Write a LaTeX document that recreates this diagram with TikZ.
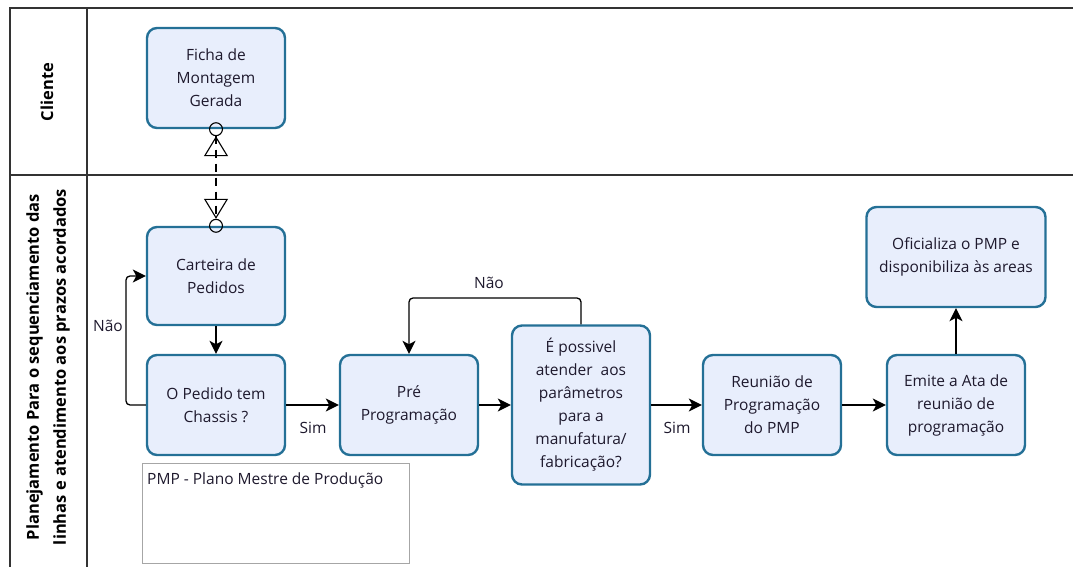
\documentclass[tikz,border=0pt]{standalone}
\usepackage{fontspec}
\setmainfont{Open Sans}
\usetikzlibrary{arrows.meta}
\definecolor{boxborda}{RGB}{36,112,150}
\definecolor{boxfundo}{RGB}{232,238,252}
\definecolor{texto}{RGB}{30,25,45}

\begin{document}
\begin{tikzpicture}[x=1pt,y=-1pt,
	tarefa/.style={draw=boxborda,fill=boxfundo,line width=2.4pt,rounded corners=10pt,
		minimum width=138pt,minimum height=100pt,align=center,text=texto,
		font=\fontsize{15.5}{23}\selectfont},
	seta/.style={line width=1.3pt,-{Stealth[length=13pt,width=13pt,inset=3.5pt]}},
	rotulo/.style={text=texto,font=\fontsize{15.5}{18}\selectfont},
	raia/.style={line width=1.3pt,black!80},
	cabeca/.style={rotate=90,align=center,font=\fontsize{16.5}{27}\selectfont\bfseries}]
				\useasboundingbox (0,0) rectangle (1073,567);
				\draw[raia] (10,567) -- (10,8) -- (1073,8);
				\draw[raia] (87,8) -- (87,567);
				\draw[raia] (10,175) -- (1073,175);
				\node[cabeca] (cliente) at (47,92) {Cliente};
				\node[cabeca] (planej) at (48,367) {Planejamento Para o sequenciamento das\\linhas e atendimento aos prazos acordados};
				\node[tarefa] (ficha) at (216,78) {Ficha de\\Montagem\\Gerada};
				\node[tarefa,minimum height=98pt] (carteira) at (216,276) {Carteira de\\Pedidos};
				\node[tarefa] (pedido) at (216,405) {O Pedido tem\\Chassis ?};
				\node[tarefa] (pre) at (409,405) {Pré\\Programação};
				\node[tarefa,minimum height=159pt] (possivel) at (581,405) {É possivel\\atender \ aos\\parâmetros\\para a\\manufatura/\\fabricação?};
				\node[tarefa] (reuniao) at (772,405) {Reunião de\\Programação\\do PMP};
				\node[tarefa] (emite) at (956,405) {Emite a Ata de\\reunião de\\programação};
				\node[tarefa,minimum width=179pt] (oficializa) at (956,257) {Oficializa o PMP e\\disponibiliza às areas};
				\node[draw=black!35,line width=1.2pt,minimum width=267pt,minimum height=100pt,anchor=north west,
					inner sep=0pt] (nota) at (142,463) {};
				\node[anchor=north west,rotulo,inner sep=0pt] (notatexto) at ([xshift=5pt,yshift=-10pt]nota.north west) {PMP - Plano Mestre de Produção};
				\draw[line width=1.1pt,dash pattern=on 8pt off 6pt,shorten <=-7pt,shorten >=-7pt,
					{Circle[open,length=14pt,width=14pt]Triangle[open,length=20pt,width=24pt]}-{Triangle[open,length=20pt,width=24pt]Circle[open,length=14pt,width=14pt]}]
					(ficha.south) -- (carteira.north);
				\draw[seta] (carteira) -- (pedido);
				\draw[seta,rounded corners=4pt] (pedido.west) -- (126,405) -- (126,276) -- (carteira.west);
				\node[rotulo] (nao1) at (108,326) {Não};
				\draw[seta] (pedido) -- (pre);
				\node[rotulo] (sim1) at (313,428) {Sim};
				\draw[seta] (pre) -- (possivel);
				\draw[seta,rounded corners=4pt] (possivel.north) -- (581,298) -- (409,298) -- (pre.north);
				\node[rotulo] (nao2) at (489,283) {Não};
				\draw[seta] (possivel) -- (reuniao);
				\node[rotulo] (sim2) at (677,428) {Sim};
				\draw[seta] (reuniao) -- (emite);
				\draw[seta] (emite) -- (oficializa);
			\end{tikzpicture}
\end{document}
